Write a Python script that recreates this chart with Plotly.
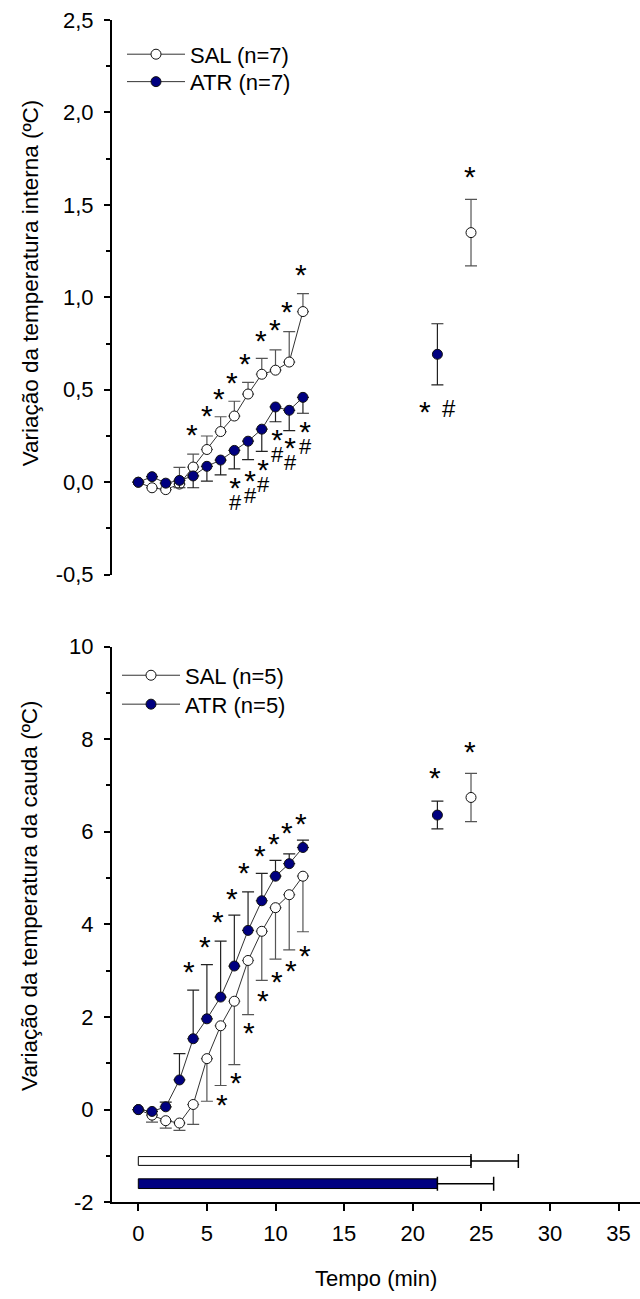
import plotly.graph_objects as go

# ---------------- data ----------------
minutes = list(range(13))
late_time_atr = 21.8
late_time_sal = 24.25

# core temperature change (top panel)
core_sal = [0.0, -0.03, -0.04, -0.01, 0.082, 0.177, 0.274, 0.358, 0.477, 0.584, 0.606, 0.65, 0.923]
core_sal_sd = [0.0, 0.0, 0.0, 0.09, 0.07, 0.073, 0.08, 0.08, 0.063, 0.086, 0.11, 0.165, 0.097]
core_atr = [0.0, 0.03, -0.005, 0.01, 0.034, 0.086, 0.12, 0.172, 0.222, 0.287, 0.407, 0.389, 0.459]
core_atr_sd = [0.0, 0.0, 0.0, 0.04, 0.064, 0.08, 0.08, 0.1, 0.10, 0.12, 0.08, 0.11, 0.086]
core_late_sal, core_late_sal_sd = 1.35, 0.18
core_late_atr, core_late_atr_sd = 0.692, 0.165

# tail temperature change (bottom panel)
tail_sal = [0.0, -0.12, -0.24, -0.29, 0.11, 1.1, 1.81, 2.34, 3.22, 3.85, 4.36, 4.64, 5.04]
tail_sal_sd = [0.0, 0.15, 0.16, 0.16, 0.43, 0.92, 1.29, 1.37, 1.17, 1.06, 1.11, 1.19, 1.2]
tail_atr = [0.0, -0.04, 0.06, 0.64, 1.53, 1.96, 2.43, 3.1, 3.87, 4.51, 5.04, 5.31, 5.66]
tail_atr_sd = [0.0, 0.0, 0.1, 0.57, 1.05, 1.17, 1.21, 1.1, 0.83, 0.59, 0.34, 0.21, 0.16]
tail_late_sal, tail_late_sal_sd = 6.74, 0.52
tail_late_atr, tail_late_atr_sd = 6.36, 0.3

# latency bars (time to peak, min)
latency_sal, latency_sal_sd = 24.25, 3.45
latency_atr, latency_atr_sd = 21.8, 4.1
latency_y_sal, latency_y_atr = -1.11, -1.6

# significance symbols: (x, y, text)
core_marks = [
    (3.89, 0.27, "*"), (4.98, 0.373, "*"), (5.87, 0.468, "*"), (6.82, 0.554, "*"),
    (7.77, 0.656, "*"), (8.93, 0.78, "*"), (9.93, 0.839, "*"), (10.87, 0.935, "*"),
    (11.89, 1.136, "*"),
    (20.87, 0.398, "*"), (22.63, 0.398, "#"), (24.21, 1.667, "*"),
]
# ATR points marked with "*" above "#": (x, y of the "*")
core_atr_pairs = [
    (7.07, -0.022), (8.16, 0.018), (9.15, 0.075), (10.12, 0.237), (11.11, 0.194), (12.16, 0.285),
]
tail_marks = [
    (3.69, 3.03, "*"), (4.85, 3.58, "*"), (5.8, 4.11, "*"), (6.8, 4.62, "*"),
    (7.71, 5.17, "*"), (8.86, 5.54, "*"), (9.88, 5.81, "*"), (10.84, 6.03, "*"),
    (11.84, 6.24, "*"),
    (6.07, 0.166, "*"), (7.13, 0.63, "*"), (8.06, 1.72, "*"), (9.08, 2.41, "*"),
    (10.09, 2.82, "*"), (11.11, 3.05, "*"), (12.13, 3.39, "*"),
    (21.59, 7.23, "*"), (24.14, 7.78, "*"),
]

core_ticks = [-0.5, 0.0, 0.5, 1.0, 1.5, 2.0, 2.5]
core_ticktext = ["-0,5", "0,0", "0,5", "1,0", "1,5", "2,0", "2,5"]
tail_ticks = [-2, 0, 2, 4, 6, 8, 10]
tail_ticktext = ["-2", "0", "2", "4", "6", "8", "10"]
time_ticks = [0, 5, 10, 15, 20, 25, 30, 35]

# ---------------- style ----------------
NAVY = "#000080"
FONT = "Liberation Sans, Arial, sans-serif"
FS = 22
STAR_FS, HASH_FS = 30, 22
W, H = 640, 1299
X0PIX, PXU = 138.3, 13.72
XLEFT = 112
xrange_ = [-(X0PIX - XLEFT) / PXU, -(X0PIX - XLEFT) / PXU + (W - XLEFT) / PXU]


def py(d):
    """paper y for a target pixel row (empirical calibration)"""
    return 1 - (d - 11) / 1277


fig = go.Figure()


def add_series(xa, ya, y, sd, late_t, late_v, late_sd, name, fill, errcol, up, legend):
    zeros = [0] * len(sd)
    err = dict(type="data", symmetric=False, array=sd if up else zeros,
               arrayminus=zeros if up else sd, color=errcol, thickness=1.2, width=6)
    fig.add_trace(go.Scatter(
        x=minutes, y=y, mode="lines+markers", name=name, xaxis=xa, yaxis=ya,
        line=dict(color="#333333", width=1),
        marker=dict(size=10, color=fill, line=dict(color="#111111", width=1)),
        error_y=err, legend=legend, showlegend=True))
    fig.add_trace(go.Scatter(
        x=[late_t], y=[late_v], mode="markers", xaxis=xa, yaxis=ya, showlegend=False,
        marker=dict(size=10, color=fill, line=dict(color="#111111", width=1)),
        error_y=dict(type="data", array=[late_sd], color=errcol, thickness=1.2, width=6)))


add_series("x2", "y2", core_sal, core_sal_sd, late_time_sal, core_late_sal, core_late_sal_sd,
           "SAL (n=7)", "white", "#555555", True, "legend")
add_series("x2", "y2", core_atr, core_atr_sd, late_time_atr, core_late_atr, core_late_atr_sd,
           "ATR (n=7)", NAVY, "#222222", False, "legend3")
add_series("x", "y", tail_sal, tail_sal_sd, late_time_sal, tail_late_sal, tail_late_sal_sd,
           "SAL (n=5)", "white", "#555555", False, "legend2")
add_series("x", "y", tail_atr, tail_atr_sd, late_time_atr, tail_late_atr, tail_late_atr_sd,
           "ATR (n=5)", NAVY, "#222222", True, "legend4")

# latency bars
fig.add_trace(go.Bar(
    x=[latency_sal, latency_atr], y=[latency_y_sal, latency_y_atr], orientation="h",
    width=[0.19, 0.21], base=0, xaxis="x", yaxis="y", showlegend=False,
    marker=dict(color=["white", NAVY], line=dict(color="black", width=1)),
    error_x=dict(type="data", symmetric=False, array=[latency_sal_sd, latency_atr_sd],
                 arrayminus=[0, 0], color="black", thickness=1.5, width=7)))

annotations = []
for marks, xr, yr in ((core_marks, "x2", "y2"), (tail_marks, "x", "y")):
    for (x, y, t) in marks:
        star = t == "*"
        annotations.append(dict(x=x, y=y, xref=xr, yref=yr, text=t, showarrow=False,
                                font=dict(family=FONT, size=STAR_FS if star else 24,
                                          color="black"),
                                borderpad=0, yshift=-2.5 if star else 0))
pair_text = (f"<span style='font-size:{STAR_FS}px'>*</span><br>"
             f"<span style='font-size:{HASH_FS}px'>#</span>")
for (x, y) in core_atr_pairs:
    annotations.append(dict(x=x, y=y, xref="x2", yref="y2", text=pair_text, showarrow=False,
                            font=dict(family=FONT, size=9, color="black"),
                            borderpad=0, yanchor="middle", yshift=-7))

annotations.append(dict(x=30 / W, y=py(283), xref="paper", yref="paper",
                        text="Variação da temperatura interna (ºC)", textangle=-90,
                        showarrow=False, font=dict(family=FONT, size=22.5, color="black"),
                        xanchor="center", yanchor="middle"))
annotations.append(dict(x=30 / W, y=py(897), xref="paper", yref="paper",
                        text="Variação da temperatura da cauda (ºC)", textangle=-90,
                        showarrow=False, font=dict(family=FONT, size=22.5, color="black"),
                        xanchor="center", yanchor="middle"))
annotations.append(dict(x=376 / W, y=py(1280), xref="paper", yref="paper",
                        text="Tempo (min)", showarrow=False,
                        font=dict(family=FONT, size=FS, color="black"),
                        xanchor="center", yanchor="middle"))

axis_common = dict(showgrid=False, zeroline=False, showline=True, linecolor="black",
                   linewidth=2, ticks="outside", tickwidth=2, tickcolor="black",
                   tickfont=dict(family=FONT, size=FS, color="black"))


def legend_at(xpix, ypix):
    return dict(x=xpix / W, y=py(ypix), xanchor="left", yanchor="middle",
                bgcolor="rgba(0,0,0,0)", borderwidth=0, itemwidth=58,
                font=dict(family=FONT, size=FS, color="black"))


fig.update_layout(
    width=W, height=H, margin=dict(l=0, r=0, t=0, b=0),
    paper_bgcolor="white", plot_bgcolor="white",
    font=dict(family=FONT, size=FS, color="black"),
    barmode="overlay",
    xaxis=dict(domain=[XLEFT / W, 1.0], range=xrange_, tickvals=time_ticks,
               anchor="y", ticklen=7, ticklabelstandoff=3, **axis_common),
    yaxis=dict(domain=[py(1204), py(647)], range=[-2, 10], anchor="x", ticklen=6,
               tickvals=tail_ticks, ticktext=tail_ticktext, ticklabelstandoff=6,
               minor=dict(ticks="outside", ticklen=4, tickwidth=1.5, tickcolor="black", dtick=1),
               **axis_common),
    xaxis2=dict(domain=[XLEFT / W, 1.0], range=xrange_, anchor="y2", visible=False),
    yaxis2=dict(domain=[py(575), py(19)], range=[-0.5, 2.5], anchor="x2", ticklen=6,
                tickvals=core_ticks, ticktext=core_ticktext, ticklabelstandoff=6,
                minor=dict(ticks="outside", ticklen=4, tickwidth=1.5, tickcolor="black", dtick=0.25),
                **axis_common),
    legend=legend_at(122, 53.5),
    legend3=legend_at(122, 81),
    legend2=legend_at(117, 676),
    legend4=legend_at(117, 705),
    annotations=annotations,
)

fig.write_html("out.html")
